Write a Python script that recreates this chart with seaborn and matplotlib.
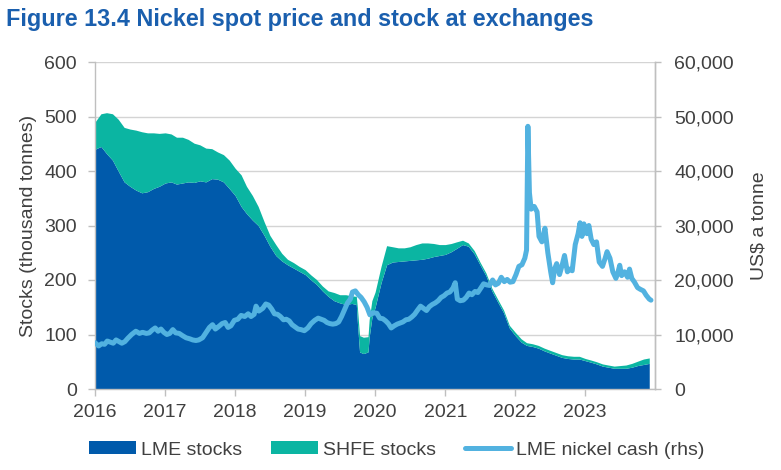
import pandas as pd
import matplotlib
matplotlib.use("Agg")
import matplotlib.pyplot as plt
import matplotlib.ticker as mticker
import matplotlib.dates as mdates
from matplotlib.patches import Patch
from matplotlib.lines import Line2D
import seaborn as sns

# --- data (monthly stocks, thousand tonnes) ---
months = pd.date_range("2016-01-01", "2023-12-01", freq="MS")

lme_stocks = [
    440, 445, 432, 420, 400, 380, 372, 365, 360, 362, 368, 372,   # 2016
    378, 380, 376, 378, 380, 379, 382, 380, 386, 385, 380, 368,   # 2017
    355, 335, 322, 310, 300, 282, 262, 245, 235, 228, 222, 216,   # 2018
    210, 200, 192, 180, 170, 162, 158, 155, 157, 120, 65, 95,     # 2019
    150, 195, 228, 233, 234, 235, 236, 237, 238, 240, 243, 245,   # 2020
    247, 252, 258, 265, 262, 248, 228, 208, 180, 160, 140, 112,   # 2021
    98, 86, 80, 78, 75, 70, 66, 62, 58, 56, 55, 55,               # 2022
    52, 49, 46, 42, 40, 38, 38, 38, 40, 43, 45, 47,               # 2023
]

shfe_stocks = [
    50, 60, 75, 85, 95, 100, 105, 110, 112, 108, 102, 97,
    92, 88, 86, 84, 78, 72, 66, 62, 55, 50, 50, 52,
    50, 58, 50, 45, 35, 25, 20, 20, 14, 10, 10, 9,
    9, 9, 9, 9, 10, 15, 15, 18, 14, 28, 30, 32,
    28, 30, 35, 28, 25, 24, 25, 28, 30, 28, 24, 20,
    18, 15, 12, 8, 6, 6, 5, 5, 5, 5, 5, 5,
    6, 6, 5, 5, 5, 5, 5, 5, 5, 5, 5, 5,
    4, 4, 4, 4, 4, 4, 5, 6, 7, 8, 10, 10,
]

# extra readings around the late-2019 LME stock collapse
dip_dates = ["2019-09-25", "2019-10-12", "2019-11-25", "2019-12-15"]
dip_lme = [155, 68, 68, 130]
dip_shfe = [15, 30, 28, 32]

# LME nickel cash price, US$ a tonne
price_dates = [
    "2016-01-01", "2016-01-20", "2016-02-05", "2016-02-20", "2016-03-05", "2016-03-20",
    "2016-04-05", "2016-04-20", "2016-05-05", "2016-05-20", "2016-06-05", "2016-06-20",
    "2016-07-10", "2016-08-01", "2016-08-20", "2016-09-05", "2016-09-25", "2016-10-10",
    "2016-10-25", "2016-11-10", "2016-11-25", "2016-12-10", "2016-12-25",
    "2017-01-10", "2017-01-25", "2017-02-10", "2017-02-25", "2017-03-15", "2017-04-01",
    "2017-04-20", "2017-05-10", "2017-05-25", "2017-06-10", "2017-06-25", "2017-07-15",
    "2017-08-01", "2017-08-20", "2017-09-05", "2017-09-20", "2017-10-05", "2017-10-25",
    "2017-11-10", "2017-11-25", "2017-12-10", "2017-12-28",
    "2018-01-15", "2018-02-01", "2018-02-20", "2018-03-10", "2018-03-25", "2018-04-10",
    "2018-04-20", "2018-05-05", "2018-05-25", "2018-06-10", "2018-06-25", "2018-07-10",
    "2018-07-25", "2018-08-10", "2018-08-25", "2018-09-10", "2018-09-25", "2018-10-10",
    "2018-10-25", "2018-11-10", "2018-11-25", "2018-12-10", "2018-12-28",
    "2019-01-15", "2019-02-01", "2019-02-20", "2019-03-10", "2019-03-25", "2019-04-10",
    "2019-04-25", "2019-05-10", "2019-05-25", "2019-06-10", "2019-06-25", "2019-07-10",
    "2019-07-25", "2019-08-10", "2019-08-25", "2019-09-05", "2019-09-20", "2019-10-05",
    "2019-10-20", "2019-11-05", "2019-11-20", "2019-12-05", "2019-12-20",
    "2020-01-10", "2020-01-25", "2020-02-10", "2020-02-25", "2020-03-10", "2020-03-25",
    "2020-04-10", "2020-04-25", "2020-05-10", "2020-05-25", "2020-06-10", "2020-06-25",
    "2020-07-10", "2020-07-25", "2020-08-10", "2020-08-25", "2020-09-10", "2020-09-25",
    "2020-10-10", "2020-10-25", "2020-11-10", "2020-11-25", "2020-12-10", "2020-12-25",
    "2021-01-10", "2021-01-25", "2021-02-10", "2021-02-22", "2021-03-05", "2021-03-20",
    "2021-04-05", "2021-04-20", "2021-05-05", "2021-05-20", "2021-06-05", "2021-06-20",
    "2021-07-05", "2021-07-20", "2021-08-05", "2021-08-20", "2021-09-05", "2021-09-20",
    "2021-10-05", "2021-10-20", "2021-11-05", "2021-11-20", "2021-12-05", "2021-12-20",
    "2022-01-05", "2022-01-20", "2022-02-05", "2022-02-20", "2022-03-01", "2022-03-08",
    "2022-03-16", "2022-03-25", "2022-04-10", "2022-04-25", "2022-05-05", "2022-05-20",
    "2022-06-05", "2022-06-20", "2022-07-05", "2022-07-15", "2022-07-25", "2022-08-05",
    "2022-08-20", "2022-09-01", "2022-09-15", "2022-09-30", "2022-10-10", "2022-10-25",
    "2022-11-10", "2022-11-25", "2022-12-05", "2022-12-15", "2022-12-25",
    "2023-01-10", "2023-01-20", "2023-02-01", "2023-02-15", "2023-03-01", "2023-03-15",
    "2023-04-01", "2023-04-15", "2023-04-25", "2023-05-10", "2023-05-25", "2023-06-10",
    "2023-06-20", "2023-06-30", "2023-07-10", "2023-07-25", "2023-08-10", "2023-08-20",
    "2023-09-01", "2023-09-15", "2023-10-01", "2023-10-15", "2023-11-01", "2023-11-15",
    "2023-12-01", "2023-12-10",
]
price_values = [
    8500, 7900, 8300, 8200, 8800, 8600,
    8400, 9000, 8700, 8400, 8700, 9300,
    10000, 10600, 10200, 10400, 10200, 10300,
    10800, 11200, 10600, 11000, 10400,
    10000, 10200, 10900, 10300, 10200, 9800,
    9400, 9200, 9000, 8900, 9000, 9400,
    10300, 11300, 11800, 11000, 11400, 12000,
    12200, 11300, 11600, 12600,
    12800, 13500, 13300, 13800, 13300, 13700,
    15200, 14300, 14800, 15600, 15400, 14700,
    13800, 13700, 13300, 12700, 12800, 12500,
    11800, 11400, 11000, 10900, 10700,
    11200, 12000, 12600, 13000, 12800, 12600,
    12200, 12000, 11900, 12000, 12300, 13300,
    14500, 15800, 16500, 17800, 18000, 17300,
    16800, 16000, 15000, 13600, 14000,
    13900, 13000, 12900, 12500, 12000, 11200,
    11600, 11900, 12100, 12300, 12700, 12800,
    13200, 13700, 14500, 15200, 14800, 14400,
    15100, 15500, 15800, 16200, 16800, 17100,
    17600, 17800, 18500, 19500, 16500, 16200,
    16300, 16800, 17600, 17300, 17900, 17700,
    18500, 19300, 19100, 19000, 20000, 19100,
    19400, 20500, 19700, 20100, 19600, 19700,
    21000, 22500, 22800, 24000, 25500, 48200,
    36000, 33000, 33500, 32500, 28000, 27000,
    29500, 25000, 21500, 19500, 22000, 23000,
    21000, 22500, 24500, 21500, 22000, 21700,
    26500, 28500, 30500, 28000, 30300,
    28500, 30000, 27500, 26500, 27000, 23300,
    22500, 24000, 25200, 24000, 21500, 20300,
    21300, 22700, 20800, 21500, 20500, 22000,
    20300, 19600, 18600, 18300, 18000, 17200,
    16500, 16300,
]

legend_labels = ["LME stocks", "SHFE stocks", "LME nickel cash (rhs)"]

LME_COL = "#005AAB"
SHFE_COL = "#0BB5A2"
PRICE_COL = "#52B2E0"
TITLE_COL = "#1A5FAE"
GRID_COL = "#D4D4D4"
TEXT_COL = "#404040"

sns.set_theme(style="white")
plt.rcParams["font.family"] = ["Liberation Sans", "DejaVu Sans"]

stocks = pd.concat([
    pd.DataFrame({"date": months, "lme": lme_stocks, "shfe": shfe_stocks}),
    pd.DataFrame({"date": pd.to_datetime(dip_dates), "lme": dip_lme, "shfe": dip_shfe}),
]).sort_values("date").reset_index(drop=True)
stocks["total"] = stocks["lme"] + stocks["shfe"]
price = pd.DataFrame({"date": pd.to_datetime(price_dates), "price": price_values})

fig = plt.figure(figsize=(7.81, 4.70), dpi=100)
ax = fig.add_axes([95 / 781, 1 - 389 / 470, (655 - 95) / 781, (389 - 62) / 470])

ax.fill_between(stocks["date"], 0, stocks["lme"], color=LME_COL, lw=0)
ax.fill_between(stocks["date"], stocks["lme"], stocks["total"], color=SHFE_COL, lw=0)

ax2 = ax.twinx()
sns.lineplot(data=price, x="date", y="price", ax=ax2, color=PRICE_COL,
             lw=3.6, solid_capstyle="round", solid_joinstyle="round")

ax.set_xlim(pd.Timestamp("2016-01-01"), pd.Timestamp("2023-12-31"))
ax.set_ylim(0, 600)
ax2.set_ylim(0, 60000)
ax.yaxis.set_major_locator(mticker.MultipleLocator(100))
ax2.yaxis.set_major_locator(mticker.MultipleLocator(10000))
ax2.yaxis.set_major_formatter(mticker.FuncFormatter(lambda v, p: f"{v:,.0f}"))
ax.xaxis.set_major_locator(mdates.YearLocator())
ax.xaxis.set_major_formatter(mdates.DateFormatter("%Y"))

ax.set_axisbelow(True)
ax.yaxis.grid(True, color=GRID_COL, lw=1)
ax.xaxis.grid(False)
ax2.grid(False)

for a in (ax, ax2):
    a.spines["top"].set_visible(False)
    for s in ("left", "right", "bottom"):
        a.spines[s].set_color("#BFBFBF")
        a.spines[s].set_linewidth(1)
ax2.spines["left"].set_visible(False)
ax2.spines["bottom"].set_visible(False)

ax.tick_params(axis="x", bottom=True, direction="out", length=5, width=1,
               color="#BFBFBF", labelcolor=TEXT_COL, labelsize=14, pad=6)
ax.tick_params(axis="y", left=True, direction="out", length=5, width=1,
               color="#BFBFBF", labelcolor=TEXT_COL, labelsize=14, pad=8)
ax2.tick_params(axis="y", right=True, direction="out", length=4, width=1,
                color="#BFBFBF", labelcolor=TEXT_COL, labelsize=14, pad=10)

ax.set_xlabel("")
ax.set_ylabel("Stocks (thousand tonnes)", fontsize=14, color=TEXT_COL, labelpad=5)
ax2.set_xlabel("")
ax2.set_ylabel("US$ a tonne", fontsize=14, color=TEXT_COL, labelpad=12)

fig.text(6 / 781, 1 - 26 / 470, "Figure 13.4 Nickel spot price and stock at exchanges",
         fontsize=16.8, fontweight="bold", color=TITLE_COL, ha="left", va="baseline")

handles = [
    Patch(facecolor=LME_COL, edgecolor="none"),
    Patch(facecolor=SHFE_COL, edgecolor="none"),
    Line2D([0], [0], color=PRICE_COL, lw=3.6, solid_capstyle="round"),
]
fig.legend(handles, legend_labels, loc="center", bbox_to_anchor=(397 / 781, 1 - 450 / 470),
           ncol=3, frameon=False, fontsize=14, handlelength=2.4, handleheight=0.6,
           handletextpad=0.25, columnspacing=1.5, labelcolor=TEXT_COL)

fig.savefig("out.png", dpi=100)
